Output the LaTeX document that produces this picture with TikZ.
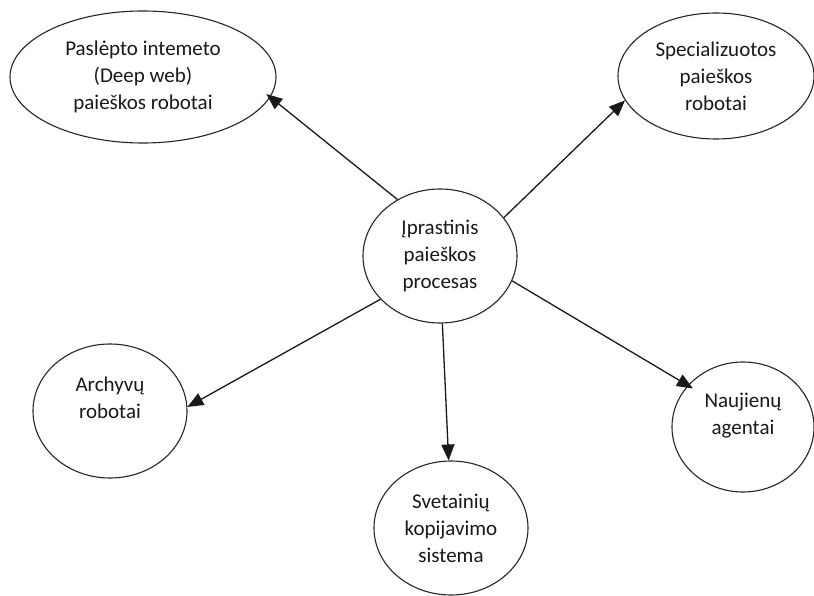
\documentclass[tikz,border=0pt]{standalone}
\usepackage{fontspec}
\setmainfont{Carlito}
\usetikzlibrary{arrows.meta,shapes.geometric}

\tikzset{
  bubble/.style={ellipse, draw=black!85, line width=1.1pt, inner sep=0pt,
    align=center, font=\fontsize{21}{27}\selectfont, text=black!90},
  link/.style={draw=black!90, line width=1.3pt,
    -{Triangle[length=16pt,width=13pt]}},
}

\begin{document}
\begin{tikzpicture}[x=1pt,y=-1pt]
  \clip (0,0) rectangle (814,596);
  \fill[white] (0,0) rectangle (814,596);

  % central process
  \node[bubble, minimum width=154pt, minimum height=134pt] (core) at (440,256)
    {Įprastinis\\paieškos\\procesas};

  % specialised robots around it
  \node[bubble, minimum width=266pt, minimum height=132pt] (deep) at (143,77)
    {Paslėpto intemeto\\(Deep web)\\paieškos robotai};
  \node[bubble, minimum width=196pt, minimum height=126pt] (spec) at (716,76)
    {Specializuotos\\paieškos\\robotai};
  \node[bubble, minimum width=154pt, minimum height=134pt] (arch) at (110,411)
    {Archyvų\\robotai\\\mbox{}};
  \node[bubble, minimum width=154pt, minimum height=134pt] (mirror) at (451,528)
    {Svetainių\\kopijavimo\\sistema};
  \node[bubble, minimum width=142pt, minimum height=130pt] (news) at (743,427)
    {Naujienų\\agentai\\\mbox{}};

  % connectors
  \draw[link, shorten >=-5pt] (core.127.5) -- (deep.351.5);
  \draw[link] (core.31) -- (spec.195.8);
  \draw[link] (core.216.7) -- (arch.3);
  \draw[link] (core.272) -- (mirror.92.6);
  \draw[link, shorten >=-6pt] (core.341) -- (news.143.7);
\end{tikzpicture}
\end{document}
